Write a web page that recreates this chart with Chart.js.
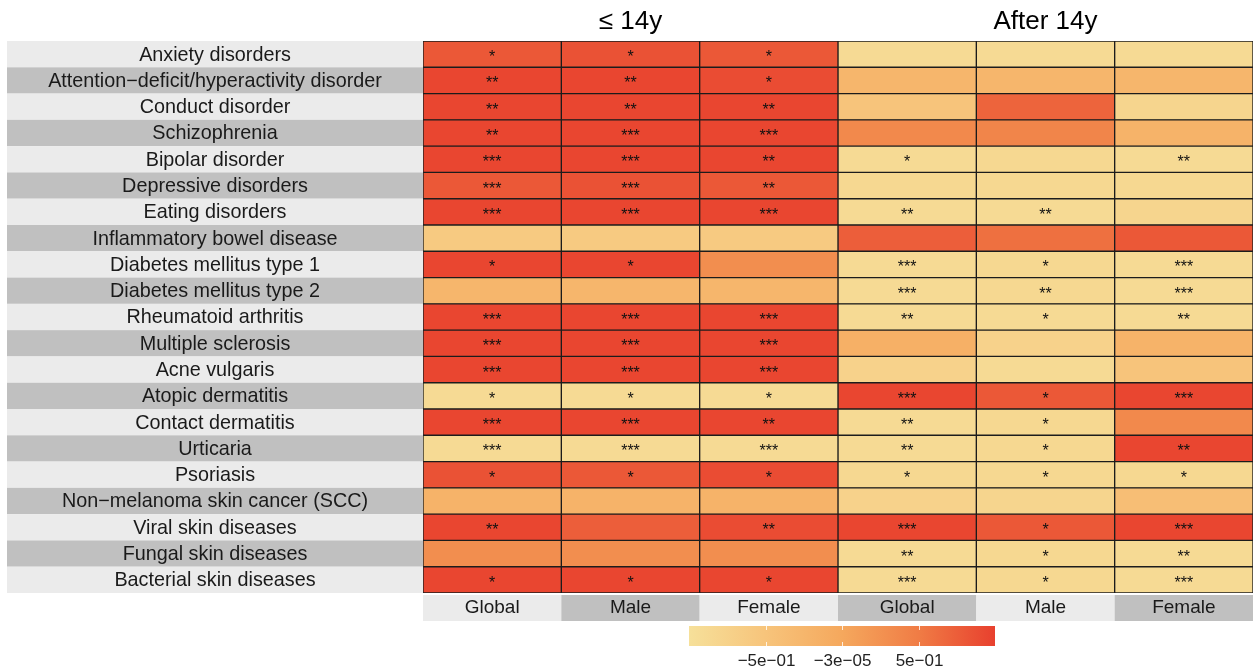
<!DOCTYPE html>
<html>
<head>
<meta charset="utf-8">
<script src="https://cdn.jsdelivr.net/npm/chart.js@4"></script>
<style>
  body { margin: 0; background: #fff; }
  #wrap { width: 1258px; height: 671px; }
</style>
</head>
<body>
<div id="wrap"><canvas id="heat" width="1258" height="671"></canvas></div>
<script>
const ROWS = [
  'Anxiety disorders', 'Attention\u2212deficit/hyperactivity disorder', 'Conduct disorder',
  'Schizophrenia', 'Bipolar disorder', 'Depressive disorders', 'Eating disorders',
  'Inflammatory bowel disease', 'Diabetes mellitus type 1', 'Diabetes mellitus type 2',
  'Rheumatoid arthritis', 'Multiple sclerosis', 'Acne vulgaris', 'Atopic dermatitis',
  'Contact dermatitis', 'Urticaria', 'Psoriasis', 'Non\u2212melanoma skin cancer (SCC)',
  'Viral skin diseases', 'Fungal skin diseases', 'Bacterial skin diseases',
];
const COLUMNS = ['Global', 'Male', 'Female', 'Global', 'Male', 'Female'];
const GROUPS = ['\u2264 14y', 'After 14y'];
const LEGEND_TICKS = [-0.5, -0.00003, 0.5];
const LEGEND_LABELS = ['\u22125e\u221201', '\u22123e\u221205', '5e\u221201'];

// cell values (colour scale -1 .. 1), one array per column
const earlyGlobal = [0.8, 0.95, 0.95, 0.95, 0.95, 0.8, 0.95, -0.6, 0.95, -0.25, 0.95, 0.95, 0.95, -0.9, 0.95, -0.9, 0.85, -0.2, 0.95, 0.3, 0.95];
const earlyMale   = [0.85, 0.95, 0.95, 0.95, 0.95, 0.85, 0.95, -0.6, 0.95, -0.25, 0.95, 0.95, 0.95, -0.9, 0.95, -0.9, 0.8, -0.2, 0.75, 0.3, 0.95];
const earlyFemale = [0.8, 0.9, 0.95, 0.95, 0.95, 0.8, 0.95, -0.6, 0.3, -0.25, 0.95, 0.95, 0.95, -0.9, 0.95, -0.9, 0.9, -0.2, 0.9, 0.3, 0.95];
const lateGlobal  = [-0.9, -0.25, -0.5, 0.35, -0.9, -0.85, -0.9, 0.75, -0.9, -0.9, -0.9, -0.15, -0.75, 0.95, -0.9, -0.9, -0.85, -0.75, 0.95, -0.9, -0.9];
const lateMale    = [-0.9, -0.25, 0.7, 0.4, -0.85, -0.85, -0.9, 0.6, -0.85, -0.85, -0.9, -0.75, -0.9, 0.8, -0.85, -0.85, -0.85, -0.8, 0.8, -0.85, -0.85];
const lateFemale  = [-0.9, -0.25, -0.8, -0.2, -0.9, -0.85, -0.8, 0.8, -0.9, -0.9, -0.9, -0.2, -0.5, 0.95, 0.35, 0.95, -0.85, -0.4, 0.95, -0.9, -0.9];

// significance stars, one array per column
const earlyGlobalSig = ['*', '**', '**', '**', '***', '***', '***', '', '*', '', '***', '***', '***', '*', '***', '***', '*', '', '**', '', '*'];
const earlyMaleSig   = ['*', '**', '**', '***', '***', '***', '***', '', '*', '', '***', '***', '***', '*', '***', '***', '*', '', '', '', '*'];
const earlyFemaleSig = ['*', '*', '**', '***', '**', '**', '***', '', '', '', '***', '***', '***', '*', '**', '***', '*', '', '**', '', '*'];
const lateGlobalSig  = ['', '', '', '', '*', '', '**', '', '***', '***', '**', '', '', '***', '**', '**', '*', '', '***', '**', '***'];
const lateMaleSig    = ['', '', '', '', '', '', '**', '', '*', '**', '*', '', '', '*', '*', '*', '*', '', '*', '*', '*'];
const lateFemaleSig  = ['', '', '', '', '**', '', '', '', '***', '***', '**', '', '', '***', '', '**', '*', '', '***', '**', '***'];

const VALUES = [earlyGlobal, earlyMale, earlyFemale, lateGlobal, lateMale, lateFemale];
const SIGS = [earlyGlobalSig, earlyMaleSig, earlyFemaleSig, lateGlobalSig, lateMaleSig, lateFemaleSig];

// --- colour scale ---
const STOPS = [
  [-1.0, [246, 224, 154]],
  [-0.5, [247, 196, 123]],
  [0.0, [245, 168, 93]],
  [0.5, [240, 124, 69]],
  [1.0, [232, 64, 46]],
];

function colorFor(v) {
  for (let i = 1; i < STOPS.length; i++) {
    const [v1, c1] = STOPS[i];
    const [v0, c0] = STOPS[i - 1];
    if (v <= v1) {
      const t = (v - v0) / (v1 - v0);
      const c = c0.map((x, k) => Math.round(x + (c1[k] - x) * t));
      return `rgb(${c[0]},${c[1]},${c[2]})`;
    }
  }
  const c = STOPS[STOPS.length - 1][1];
  return `rgb(${c[0]},${c[1]},${c[2]})`;
}

const FONT = '"Liberation Sans", Arial, Helvetica, sans-serif';

// --- decorations: label bands, row/column labels, titles, stars, colour bar ---
const heatDecor = {
  id: 'heatDecor',
  beforeDraw(chart) {
    const { ctx, chartArea, scales: { x, y } } = chart;
    const rowH = (chartArea.bottom - chartArea.top) / ROWS.length;
    ctx.save();
    ctx.textAlign = 'center';
    ctx.textBaseline = 'middle';
    ROWS.forEach((name, i) => {
      const cy = y.getPixelForValue(i);
      ctx.fillStyle = i % 2 === 0 ? '#ebebeb' : '#c0c0c0';
      ctx.fillRect(7, cy - rowH / 2, chartArea.left - 7, rowH);
      ctx.fillStyle = '#1a1a1a';
      ctx.font = `19.8px ${FONT}`;
      ctx.fillText(name, (7 + chartArea.left) / 2, cy + 1);
    });
    COLUMNS.forEach((name, i) => {
      const x0 = x.getPixelForValue(i);
      const x1 = x.getPixelForValue(i + 1);
      ctx.fillStyle = i % 2 === 0 ? '#ebebeb' : '#c0c0c0';
      ctx.fillRect(x0, chartArea.bottom + 2, x1 - x0, 26);
      ctx.fillStyle = '#1a1a1a';
      ctx.font = `19px ${FONT}`;
      ctx.fillText(name, (x0 + x1) / 2, chartArea.bottom + 15);
    });
    ctx.restore();
  },
  afterDatasetsDraw(chart) {
    const { ctx, scales: { x } } = chart;
    ctx.save();
    ctx.fillStyle = '#111';
    ctx.textAlign = 'center';
    ctx.font = `16px ${FONT}`;
    chart.data.datasets.forEach((ds, di) => {
      chart.getDatasetMeta(di).data.forEach((el, ri) => {
        const s = SIGS[di][ri];
        if (!s) return;
        ctx.fillText(s, (el.x + el.base) / 2, el.y + 8);
      });
    });

    // group titles
    ctx.fillStyle = '#000';
    ctx.font = `26px ${FONT}`;
    ctx.textBaseline = 'middle';
    ctx.fillText(GROUPS[0], x.getPixelForValue(1.5), 22);
    ctx.fillText(GROUPS[1], x.getPixelForValue(4.5), 22);

    // colour bar
    const barL = 689, barW = 306, barT = 626, barH = 20;
    const grad = ctx.createLinearGradient(barL, 0, barL + barW, 0);
    STOPS.forEach(([v]) => grad.addColorStop((v + 1) / 2, colorFor(v)));
    ctx.fillStyle = grad;
    ctx.fillRect(barL, barT, barW, barH);
    ctx.strokeStyle = 'rgba(255,255,255,0.8)';
    ctx.lineWidth = 1;
    ctx.font = `17px ${FONT}`;
    LEGEND_TICKS.forEach((v, i) => {
      const px = Math.round(barL + (v + 1) / 2 * barW) + 0.5;
      ctx.beginPath();
      ctx.moveTo(px, barT);
      ctx.lineTo(px, barT + 4);
      ctx.moveTo(px, barT + barH - 4);
      ctx.lineTo(px, barT + barH);
      ctx.stroke();
      ctx.fillStyle = '#222';
      ctx.fillText(LEGEND_LABELS[i], px, barT + 35);
    });
    ctx.restore();
  },
};

new Chart(document.getElementById('heat'), {
  type: 'bar',
  data: {
    labels: ROWS,
    datasets: VALUES.map((vals, i) => ({
      label: COLUMNS[i],
      data: vals.map(() => 1),
      backgroundColor: vals.map(colorFor),
      borderColor: '#1c1c1c',
      borderWidth: 1,
      borderSkipped: false,
      barPercentage: 1,
      categoryPercentage: 1,
    })),
  },
  options: {
    responsive: false,
    animation: false,
    indexAxis: 'y',
    layout: { padding: { left: 7, right: 5, top: 41, bottom: 50 } },
    plugins: { legend: { display: false }, tooltip: { enabled: false } },
    scales: {
      x: {
        type: 'linear', stacked: true, min: 0, max: 6,
        grid: { display: false }, border: { display: false },
        afterFit: (scale) => { scale.height = 28; },
        ticks: { display: false },
      },
      y: {
        stacked: true,
        grid: { display: false }, border: { display: false },
        afterFit: (scale) => { scale.width = 416; },
        ticks: { display: false },
      },
    },
  },
  plugins: [heatDecor],
});
</script>
</body>
</html>
